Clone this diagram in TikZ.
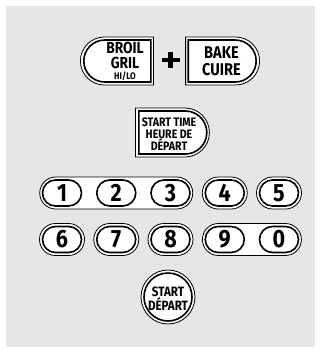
\documentclass[tikz,border=0pt]{standalone}
\usepackage{fontspec}
\setmainfont{Fira Sans}[FakeStretch=0.86]
\usetikzlibrary{positioning,shapes.misc}
\definecolor{panel}{HTML}{E6E6E6}

\tikzset{
  rim/.style={draw,line width=0.8pt,fill=white,inner sep=0pt},
  face/.style={draw,line width=1.6pt,fill=white,inner sep=0pt},
  pill/.style={rounded rectangle},
  digitkey/.style={face,pill,minimum width=39pt,minimum height=26pt,
    font=\bfseries\fontsize{25}{25}\selectfont},
  digitrim/.style={rim,pill,minimum width=45pt,minimum height=32pt},
  label/.style={align=center,inner sep=0pt},
}

\begin{document}
\begin{tikzpicture}[x=1pt,y=-1pt]
\useasboundingbox (0,0) rectangle (322,354);
\fill[panel] (6,6) rectangle (315,347);

% Broil + bake pair.
\node[rim,pill,rounded rectangle right arc=none,minimum width=73pt,minimum height=48pt,anchor=west] (broilrim) at (80,61) {};
\node[face,pill,rounded rectangle right arc=none,minimum width=67pt,minimum height=42pt,anchor=west] (broil) at (83,61) {};
\node[label,font=\bfseries\fontsize{16}{15}\selectfont] (broiltxt) at (125,61.5) {BROIL\\GRIL\\[-3.5pt]{\fontsize{9.5}{9.5}\selectfont HI/LO}};
\coordinate (plus) at (170.5,60);
\draw[line width=4.5pt] ([xshift=-9pt]plus) -- ([xshift=9pt]plus);
\draw[line width=4.5pt] ([yshift=-8pt]plus) -- ([yshift=8pt]plus);
\node[rim,pill,rounded rectangle left arc=none,minimum width=74pt,minimum height=48pt,anchor=east] (bakerim) at (260,61) {};
\node[face,pill,rounded rectangle left arc=none,minimum width=68pt,minimum height=42pt,anchor=east] (bake) at (257,61) {};
\node[label,font=\bfseries\fontsize{17}{17}\selectfont] (baketxt) at (221.5,61) {BAKE\\CUIRE};

% Start time.
\node[rim,pill,rounded rectangle left arc=none,minimum width=74pt,minimum height=49pt,anchor=west] (timerim) at (135,132.5) {};
\node[face,pill,rounded rectangle left arc=none,minimum width=68pt,minimum height=43pt,anchor=west] (time) at (138,132.5) {};
\node[label,font=\bfseries\fontsize{12.3}{12}\selectfont] (timetxt) at (169,134.5) {START TIME\\HEURE DE\\DÉPART};

% Keypad: shared rims first, then the keys.
\node[digitrim,minimum width=153pt] (grpa) at (116.25,193) {};
\node[digitrim,minimum width=99pt] (grpb) at (251.9,239.5) {};
\foreach \x/\y in {224.75/193,279/193,62/239.5,116.25/239.5,170.5/239.5}{
  \node[digitrim] at (\x,\y) {};
}
\foreach \d/\x/\y in {1/62/193,2/116.25/193,3/170.5/193,4/224.75/193,5/279/193,
                      6/62/239.5,7/116.25/239.5,8/170.5/239.5,9/224.75/239.5,0/279/239.5}{
  \node[digitkey] (k\d) at (\x,\y) {\d};
}

% Start.
\node[rim,circle,minimum size=54pt] (startrim) at (168,297) {};
\node[face,circle,minimum size=48pt] (start) at (startrim) {};
\node[label,font=\bfseries\fontsize{13.5}{14.5}\selectfont] (starttxt) at (168,298.5) {START\\DÉPART};
\end{tikzpicture}
\end{document}
